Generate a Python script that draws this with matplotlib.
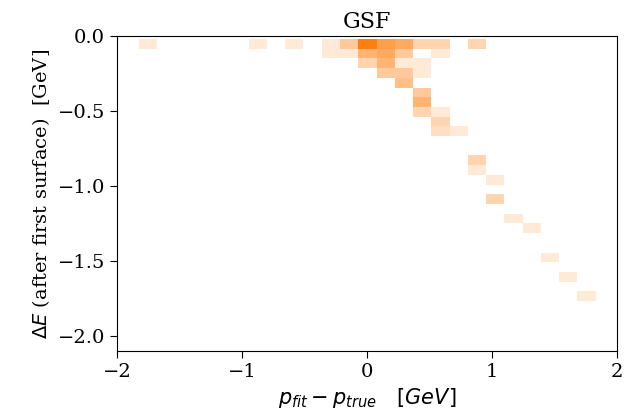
import numpy as np
import matplotlib
matplotlib.use("Agg")
import matplotlib.pyplot as plt
from matplotlib.colors import LinearSegmentedColormap

# Histogram binning
x_min, x_max, n_x = -1.824, 1.83, 25
y_top, y_step, n_y = -0.02, 0.0647, 27

# Filled cells: (row from top, column from left, count)
cell_rows = [0, 0, 0, 0, 0, 0, 0, 0, 0, 0, 0,
             1, 1, 1, 1, 1, 1,
             2, 2, 2, 2,
             3, 3, 3,
             4, 5, 6, 7, 7, 8, 9, 9,
             12, 13, 14, 16, 18, 19, 22, 24, 26]
cell_cols = [0, 6, 8, 10, 11, 12, 13, 14, 15, 16, 18,
             10, 11, 12, 13, 14, 16,
             12, 13, 14, 15,
             13, 14, 15,
             14, 15, 15, 15, 16, 16, 16, 17,
             18, 18, 19, 19, 20, 21, 22, 23, 24]
cell_counts = [2, 2, 2, 2, 5, 12, 9, 8, 4, 4, 4,
               2, 2, 7, 8, 5, 2,
               4, 7, 2, 2,
               5, 5, 2,
               6, 5, 7, 4, 2, 4, 3, 2,
               4, 2, 2, 4, 2, 2, 2, 2, 2]

x_ticks = [-2, -1, 0, 1, 2]
y_ticks = [0.0, -0.5, -1.0, -1.5, -2.0]

plt.rcParams['font.family'] = ['DejaVu Serif']

xedges = np.linspace(x_min, x_max, n_x + 1)
yedges = y_top - y_step * np.arange(n_y + 1)
H = np.zeros((n_y, n_x))
for r, c, v in zip(cell_rows, cell_cols, cell_counts):
    H[r, c] = v
Hm = np.ma.masked_equal(H, 0)

cmap = LinearSegmentedColormap.from_list("w2o", ["#ffffff", "#ff7f0e"])

fig = plt.figure(figsize=(6.3, 4.16), dpi=100)
ax = fig.add_axes([0.1857, 0.156, 0.7937, 0.7575])
ax.pcolormesh(xedges, yedges, Hm, cmap=cmap, vmin=0, vmax=max(cell_counts))
ax.set_xlim(-2, 2)
ax.set_ylim(-2.1, 0)
ax.set_xticks(x_ticks)
ax.set_yticks(y_ticks)
ax.tick_params(labelsize=14, length=5)
ax.set_title("GSF", fontsize=16)
ax.set_xlabel(r"$p_{fit} - p_{true} \quad [GeV]$", fontsize=15)
ax.set_ylabel(r"$\Delta E$ (after first surface)  [GeV]", fontsize=14)
fig.savefig("out.png", dpi=100)
